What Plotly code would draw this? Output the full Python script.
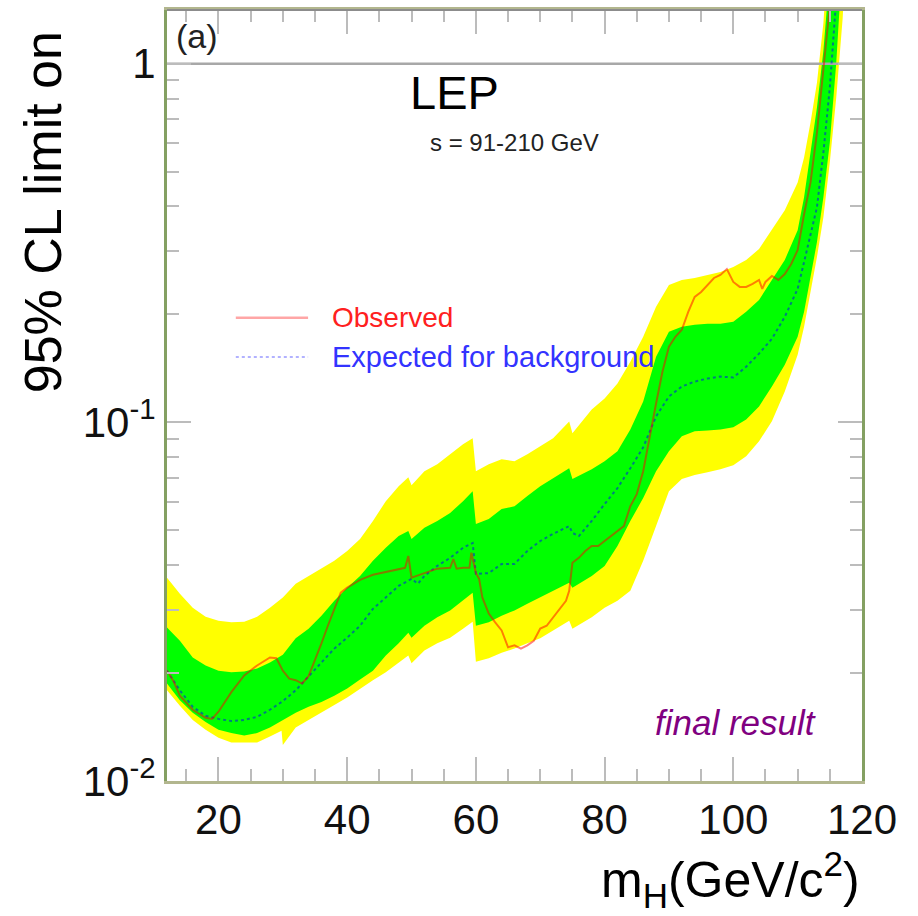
import plotly.graph_objects as go

# ---------------- data ----------------
# Band grid (Higgs mass, GeV/c^2)
band_mass = [12, 14, 16, 18, 20, 22, 24, 26, 28, 29.8, 30, 32, 34, 36, 38, 40, 42, 44, 46, 48,
             49.5, 50, 52, 54, 56, 58, 59.5, 60, 62, 64, 66, 68, 70, 72, 74.5, 75, 78, 80, 82,
             84, 86, 88, 90, 92, 94, 96, 98, 100, 102, 104, 106, 108, 110, 111, 112, 113, 114,
             115, 116, 117, 118]
yellow_hi = [0.0369, 0.0333, 0.0304, 0.0287, 0.0280, 0.0277, 0.0278, 0.0287, 0.0304, 0.0322,
             0.0325, 0.0355, 0.0373, 0.0393, 0.0411, 0.0438, 0.0473, 0.0531, 0.0603, 0.0664,
             0.0703, 0.0668, 0.0731, 0.0764, 0.0815, 0.0869, 0.0903, 0.0731, 0.0764, 0.0789,
             0.0779, 0.0815, 0.0858, 0.0903, 0.1006, 0.0932, 0.1087, 0.1166, 0.1284, 0.1477,
             0.1733, 0.2100, 0.2417, 0.2496, 0.2528, 0.2577, 0.2627, 0.2712, 0.2837, 0.3043,
             0.3436, 0.3905, 0.467, 0.548, 0.686, 0.886, 1.30, 2.2, 4.0, 8.0, 15.0]
green_hi = [0.0268, 0.0246, 0.0221, 0.0210, 0.0203, 0.0201, 0.0202, 0.0206, 0.0214, 0.0224,
            0.0225, 0.0250, 0.0266, 0.0289, 0.0318, 0.0346, 0.0373, 0.0411, 0.0447, 0.0482,
            0.0498, 0.0473, 0.0508, 0.0531, 0.0559, 0.0603, 0.0643, 0.0521, 0.0538, 0.0573,
            0.0584, 0.0623, 0.0664, 0.0699, 0.0745, 0.0695, 0.0740, 0.0779, 0.0831, 0.0956,
            0.1144, 0.1525, 0.1789, 0.1848, 0.1872, 0.1884, 0.1884, 0.1908, 0.2034, 0.2196,
            0.2496, 0.2837, 0.3436, 0.4244, 0.566, 0.755, 1.087, 1.7, 3.0, 6.0, 10.0]
green_lo = [0.0187, 0.0168, 0.0155, 0.0146, 0.0139, 0.0136, 0.0134, 0.0136, 0.0141, 0.0147,
            0.0148, 0.0155, 0.0161, 0.0166, 0.0173, 0.0181, 0.0192, 0.0203, 0.0224, 0.0242,
            0.0259, 0.0251, 0.0271, 0.0286, 0.0299, 0.0318, 0.0335, 0.0271, 0.0277, 0.0289,
            0.0299, 0.0312, 0.0325, 0.0339, 0.0357, 0.0346, 0.0373, 0.0398, 0.0452, 0.0531,
            0.0615, 0.0731, 0.0831, 0.0915, 0.0944, 0.0950, 0.0956, 0.0969, 0.1019, 0.1108,
            0.1259, 0.1449, 0.1733, 0.2034, 0.2577, 0.3183, 0.4244, 0.603, 1.006, 1.9, 4.0]
yellow_lo = [0.0179, 0.0162, 0.0148, 0.0139, 0.0132, 0.0128, 0.0128, 0.0128, 0.0133, 0.0138,
             0.0126, 0.0141, 0.0148, 0.0155, 0.0163, 0.0171, 0.0181, 0.0191, 0.0201, 0.0214,
             0.0224, 0.0213, 0.0231, 0.0242, 0.0251, 0.0266, 0.0278, 0.0215, 0.0220, 0.0228,
             0.0234, 0.0242, 0.0250, 0.0263, 0.0280, 0.0266, 0.0286, 0.0304, 0.0318, 0.0339,
             0.0411, 0.0514, 0.0643, 0.0695, 0.0713, 0.0726, 0.0740, 0.0760, 0.0805, 0.0886,
             0.1007, 0.1220, 0.1545, 0.1848, 0.2311, 0.2891, 0.3734, 0.531, 0.805, 1.342, 3.0]

# Expected limit (background only)
exp_mass = [12, 14, 16, 18, 20, 22, 24, 26, 28, 30, 32, 34, 36, 38, 40, 42, 44, 46, 48, 50, 51,
            52, 54, 56, 58, 59.5, 60, 62, 64, 66, 68, 70, 72, 74.5, 75, 76, 78, 80, 82, 84, 86,
            88, 90, 92, 94, 96, 98, 100, 102, 104, 106, 108, 110, 111, 112, 113, 114, 115, 116,
            117, 118]
exp_limit = [0.0203, 0.0179, 0.0161, 0.0152, 0.0149, 0.0147, 0.0148, 0.0151, 0.0158, 0.0167,
             0.0179, 0.0196, 0.0214, 0.0234, 0.0251, 0.0271, 0.0302, 0.0325, 0.0350, 0.0366,
             0.0355, 0.0373, 0.0398, 0.0419, 0.0447, 0.0461, 0.0378, 0.0380, 0.0403, 0.0403,
             0.0438, 0.0467, 0.0489, 0.0514, 0.0492, 0.0482, 0.0531, 0.0592, 0.0656, 0.0745,
             0.0852, 0.1039, 0.1181, 0.1259, 0.1300, 0.1325, 0.1342, 0.1334, 0.1430, 0.1555,
             0.1711, 0.1970, 0.2356, 0.2801, 0.3329, 0.398, 0.566, 0.858, 1.525, 3.0, 6.0]

# Observed limit
obs_mass = [12, 13, 14, 16, 18, 19, 20, 22, 24, 26, 28, 29, 30, 31, 32, 33, 34, 35, 36, 37,
            38, 39, 40, 42, 44, 46, 48, 49, 49.5, 50, 52, 54, 56, 56.5, 57, 58, 59, 59.3, 60,
            60.5, 61, 62, 63, 64, 65, 66, 67, 68, 69, 70, 71, 72, 73, 74, 74.5, 75, 76, 77, 78,
            79, 80, 81, 82, 83, 84, 85, 86, 87, 88, 89, 90, 91, 92, 93, 94, 95, 96, 97, 98, 99,
            100, 101, 102, 103, 104, 104.5, 105, 106, 107, 108, 109, 110, 111, 112, 113, 114,
            115, 116, 117]
obs_limit = [0.0203, 0.0190, 0.0173, 0.0158, 0.0150, 0.0149, 0.0156, 0.0177, 0.0197, 0.0210,
             0.0221, 0.0220, 0.0203, 0.0193, 0.0191, 0.0187, 0.0196, 0.0217, 0.0242, 0.0271,
             0.0302, 0.0335, 0.0346, 0.0364, 0.0376, 0.0383, 0.0391, 0.0393, 0.0424, 0.0369,
             0.0380, 0.0391, 0.0393, 0.0416, 0.0391, 0.0393, 0.0393, 0.0433, 0.0380, 0.0366,
             0.0325, 0.0293, 0.0277, 0.0263, 0.0236, 0.0239, 0.0234, 0.0239, 0.0246, 0.0266,
             0.0271, 0.0286, 0.0302, 0.0318, 0.0339, 0.0406, 0.0419, 0.0438, 0.0452, 0.0452,
             0.0467, 0.0482, 0.0498, 0.0514, 0.0584, 0.0631, 0.0731, 0.0915, 0.1129, 0.1386,
             0.1626, 0.1733, 0.1813, 0.2034, 0.2239, 0.2311, 0.2417, 0.2528, 0.2577, 0.2677,
             0.2464, 0.2387, 0.2387, 0.2433, 0.2496, 0.2356, 0.2464, 0.2560, 0.2496, 0.2593,
             0.2765, 0.3024, 0.3806, 0.467, 0.643, 0.975, 1.45, 2.5, 5.0]

ref_mass = [12, 120]
ref_level = [1, 1]

x_ticks = [20, 40, 60, 80, 100, 120]
y_ticks = [0.01, 0.1, 1]
y_tick_text = ["10<sup>-2</sup>", "10<sup>-1</sup>", "1"]
y_minor = [0.02, 0.03, 0.04, 0.05, 0.06, 0.07, 0.08, 0.09,
           0.2, 0.3, 0.4, 0.5, 0.6, 0.7, 0.8, 0.9]

# ---------------- figure ----------------
FONT = "Liberation Sans, Arial, sans-serif"
fig = go.Figure()

fig.add_trace(go.Scatter(x=band_mass, y=yellow_lo, mode="lines", line=dict(width=0),
                         hoverinfo="skip", showlegend=False))
fig.add_trace(go.Scatter(x=band_mass, y=yellow_hi, mode="lines", line=dict(width=0),
                         fill="tonexty", fillcolor="#ffff00", hoverinfo="skip", showlegend=False))
fig.add_trace(go.Scatter(x=band_mass, y=green_lo, mode="lines", line=dict(width=0),
                         hoverinfo="skip", showlegend=False))
fig.add_trace(go.Scatter(x=band_mass, y=green_hi, mode="lines", line=dict(width=0),
                         fill="tonexty", fillcolor="#00ff00", hoverinfo="skip", showlegend=False))
fig.add_trace(go.Scatter(x=ref_mass, y=ref_level, mode="lines",
                         line=dict(color="#a8a8a8", width=2.5), showlegend=False))
fig.add_trace(go.Scatter(x=exp_mass, y=exp_limit, mode="lines",
                         line=dict(color="rgba(0,0,255,0.5)", width=2, dash="dot"),
                         name="Expected for background", showlegend=False))
fig.add_trace(go.Scatter(x=obs_mass, y=obs_limit, mode="lines",
                         line=dict(color="rgba(255,0,0,0.5)", width=2),
                         name="Observed", showlegend=False))

# legend samples + labels (drawn manually, as in the original)
fig.add_shape(type="line", xref="paper", yref="paper", x0=0.099, x1=0.203, y0=0.601, y1=0.601,
              line=dict(color="rgba(255,0,0,0.35)", width=2.5))
fig.add_shape(type="line", xref="paper", yref="paper", x0=0.099, x1=0.203, y0=0.550, y1=0.550,
              line=dict(color="rgba(0,0,255,0.3)", width=2, dash="dot"))

ann = [
    dict(text="Observed", x=0.2345, y=0.601, xanchor="left", yanchor="middle",
         font=dict(size=28, color="#ff2020")),
    dict(text="Expected for background", x=0.2345, y=0.550, xanchor="left", yanchor="middle",
         font=dict(size=29, color="#3333ff")),
    dict(text="LEP", x=0.347, y=0.893, xanchor="left", yanchor="middle",
         font=dict(size=47, color="#000000")),
    dict(text="s = 91-210 GeV", x=0.3755, y=0.828, xanchor="left", yanchor="middle",
         font=dict(size=24, color="#222222")),
    dict(text="(a)", x=0.010, y=0.966, xanchor="left", yanchor="middle",
         font=dict(size=34, color="#222222")),
    dict(text="<i>final result</i>", x=0.937, y=0.076, xanchor="right", yanchor="middle",
         font=dict(size=35, color="#800080")),
    dict(text="95% CL limit on", x=-0.178, y=0.738, xanchor="center", yanchor="middle",
         textangle=-90, font=dict(size=52, color="#000000")),
    dict(text="m<sub>H</sub>(GeV/c<sup>2</sup>)", x=1.0, y=-0.128, xanchor="right",
         yanchor="middle", font=dict(size=50, color="#000000")),
]
for a in ann:
    a.update(xref="paper", yref="paper", showarrow=False)
    fig.add_annotation(**a)

# top frame line in grey (the other sides come from the axes)
fig.add_shape(type="line", xref="paper", yref="paper", x0=0, x1=1, y0=1, y1=1,
              line=dict(color="#8c8c8c", width=2))

fig.update_xaxes(type="linear", range=[12, 120], tickvals=x_ticks,
                 ticks="inside", ticklen=24, tickwidth=2, tickcolor="#bcbcbc",
                 minor=dict(dtick=5, tick0=0, ticks="inside", ticklen=12, tickwidth=2,
                            tickcolor="#bcbcbc", showgrid=False),
                 showline=True, linecolor="#b2b68e", linewidth=3, mirror="ticks",
                 showgrid=False, zeroline=False,
                 tickfont=dict(size=42, family=FONT, color="#111111"))
fig.update_yaxes(type="log", range=[-2, 0.15], tickvals=y_ticks, ticktext=y_tick_text,
                 ticks="inside", ticklen=24, tickwidth=2, tickcolor="#bcbcbc",
                 minor=dict(tickvals=y_minor, ticks="inside", ticklen=12, tickwidth=2,
                            tickcolor="#bcbcbc", showgrid=False),
                 showline=True, linecolor="#84a062", linewidth=3, mirror="ticks",
                 showgrid=False, zeroline=False,
                 tickfont=dict(size=42, family=FONT, color="#111111"))

fig.update_layout(width=918, height=916, margin=dict(l=167, r=56, t=7, b=135),
                  paper_bgcolor="white", plot_bgcolor="white",
                  font=dict(family=FONT), showlegend=False)

fig.write_html("out.html")
